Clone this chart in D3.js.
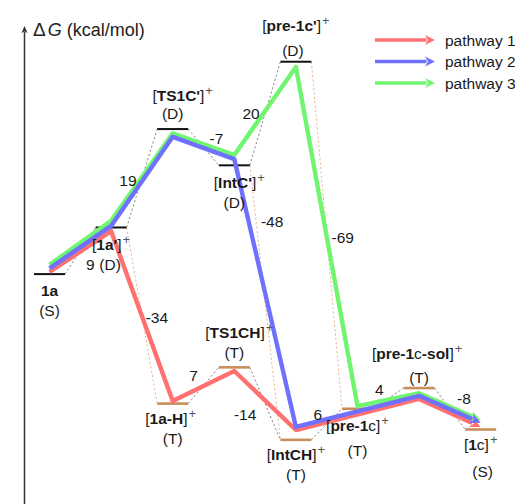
<!DOCTYPE html>
<html><head><meta charset="utf-8">
<script src="https://cdn.jsdelivr.net/npm/d3@7"></script>
<style>body{margin:0;background:#fff}svg{display:block}</style>
</head><body>
<script>
// ---- species on the free-energy surface (kcal/mol) ----
const levelNames  = ["1a", "1a'", "TS1C'", "IntC'", "pre-1c'", "1a-H", "TS1CH", "IntCH", "pre-1c", "pre-1c-sol", "1c"];
const levelCols   = [0, 1, 2, 3, 4, 2, 3, 4, 5, 6, 7];
const levelEnergy = [0, 9, 28, 21, 41, -25, -18, -32, -26, -22, -30];
const levelState  = ["S", "D", "D", "D", "D", "T", "T", "T", "T", "T", "S"];
// *...* = bold, ^ = superscript
const levelLabel  = ["*1a*", "[*1a'*]^+", "[*TS1C'*]^+", "[*IntC'*]^+", "[*pre-1c'*]^+", "[*1a-H*]^+",
                     "[*TS1CH*]^+", "[*IntCH*]^+", "[*pre-1*c]^+", "[*pre-1*c*-sol*]^+", "[*1*c]^+"];
const levelTone   = ["dark", "dark", "dark", "dark", "dark", "tan", "tan", "tan", "tan", "tan", "tan"];

// ---- elementary steps with their energy change ----
const stepFrom  = [0, 1, 2, 3, 3, 4, 1, 5, 6, 7, 8, 9];
const stepTo    = [1, 2, 3, 4, 7, 8, 5, 6, 7, 8, 9, 10];
const stepLabel = ["9", "19", "-7", "20", "-48", "-69", "-34", "7", "-14", "6", "4", "-8"];
const stepSpinChange = [false, false, false, false, true, true, true, false, false, false, false, false];

// ---- reaction pathways (column, energy) ----
const pathwayNames = ["pathway 1", "pathway 2", "pathway 3"];
const pathway1Cols = [0, 1, 2, 3, 4, 6, 7];
const pathway1Energy = [0.4, 8.3, -24.5, -18.7, -30.1, -24.1, -29.5];
const pathway2Cols = [0, 1, 2, 3, 4, 6, 7];
const pathway2Energy = [1.1, 9.3, 26.5, 22.2, -29.5, -23.5, -28.7];
const pathway3Cols = [0, 1, 2, 3, 4, 5, 6, 7];
const pathway3Energy = [1.8, 10.3, 27.2, 23.0, 40.0, -25.5, -23.0, -28.2];

// ---- layout ----
const W = 515, H = 504;
const colors = ["#ff7070", "#7070ff", "#70f570"];
const font = "'Liberation Sans', Arial, sans-serif";
const halfBar = 15.5;
// label placement relative to each bar: [dx, dy] of name line and state line centres
const nameOffset  = [[0,16],[0,17],[10,-34],[5,17],[0,-36],[-2,15],[5,-35],[0,15],[0,17],[-2,-35],[0,15]];
const stateOffset = [[0,36],[-1,37],[0,-16],[0,37],[-3,-11],[0,35],[0,-15],[0,35],[0,42],[0,-11],[2,42]];
// step-label placement relative to the connector midpoint
const stepOffset  = [[10,14],[-14,2],[13,-9],[-14,0],[7,-81],[16,2],[15,2],[-10,-10],[-20,11],[-9,-10],[-9,-9],[14,-10]];

const svg = d3.select("body").append("svg").attr("width", W).attr("height", H)
  .style("font-family", font);

const x = d3.scaleLinear().domain([0, 7]).range([49.5, 480.7]);
const y = d3.scaleLinear().domain([-40, 50]).range([481.3, 15.1]);

// ---- energy axis ----
const axisG = svg.append("g");
axisG.append("line").attr("x1", 24.5).attr("x2", 24.5).attr("y1", H).attr("y2", 32)
  .attr("stroke", "#333").attr("stroke-width", 1.5);
axisG.append("path").attr("d", "M24.5,26 L21.5,33 L24.5,31.5 L27.5,33 Z").attr("fill", "#333");
const axisTitle = axisG.append("text").attr("x", 33).attr("y", 36).attr("font-size", 18).attr("fill", "#222");
axisTitle.append("tspan").attr("font-size", 19).text("\u0394");
axisTitle.append("tspan").attr("dx", 2).attr("font-style", "italic").text("G");
axisTitle.append("tspan").text(" (kcal/mol)");

// ---- dashed connectors between levels ----
const barPt = (i, side) => [x(levelCols[i]) + side * halfBar, y(levelEnergy[i])];
const connG = svg.append("g");
stepFrom.forEach((f, k) => {
  const a = barPt(f, 1), b = barPt(stepTo[k], -1);
  connG.append("line").attr("x1", a[0]).attr("y1", a[1]).attr("x2", b[0]).attr("y2", b[1])
    .attr("stroke", stepSpinChange[k] ? "#e3b08a" : "#7a7a7a")
    .attr("stroke-width", 0.9).attr("stroke-dasharray", "2.2,2.2");
});

// ---- energy levels ----
svg.append("g").selectAll("line").data(levelNames).join("line")
  .attr("x1", (d, i) => x(levelCols[i]) - halfBar)
  .attr("x2", (d, i) => x(levelCols[i]) + halfBar)
  .attr("y1", (d, i) => y(levelEnergy[i]))
  .attr("y2", (d, i) => y(levelEnergy[i]))
  .attr("stroke", (d, i) => levelTone[i] === "dark" ? "#111" : "#c98f5a")
  .attr("stroke-width", (d, i) => levelTone[i] === "dark" ? 2 : 2.6);

// ---- pathways with arrowheads ----
function arrowPath(g, pts, color, width, headLen, headW) {
  const n = pts.length;
  const [x1, y1] = pts[n - 2], [x2, y2] = pts[n - 1];
  const L = Math.hypot(x2 - x1, y2 - y1), ux = (x2 - x1) / L, uy = (y2 - y1) / L;
  const shaft = pts.slice(0, -1).concat([[x2 - ux * headLen * 0.85, y2 - uy * headLen * 0.85]]);
  g.append("path").attr("d", d3.line()(shaft)).attr("fill", "none")
    .attr("stroke", color).attr("stroke-width", width)
    .attr("stroke-linejoin", "round").attr("stroke-linecap", "butt");
  const bx = x2 - ux * headLen, by = y2 - uy * headLen, px = -uy, py = ux;
  g.append("path")
    .attr("d", `M${x2},${y2}L${bx + px * headW / 2},${by + py * headW / 2}L${x2 - ux * headLen * 0.7},${y2 - uy * headLen * 0.7}L${bx - px * headW / 2},${by - py * headW / 2}Z`)
    .attr("fill", color);
}
const pathG = svg.append("g");
const pathways = [[pathway1Cols, pathway1Energy], [pathway2Cols, pathway2Energy], [pathway3Cols, pathway3Energy]];
[0, 2, 1].forEach(p => {
  const [cols, en] = pathways[p];
  arrowPath(pathG, cols.map((c, i) => [x(c), y(en[i])]), colors[p], 4.4, 11, 10);
});

// ---- text labels ----
function richText(sel, spec) {
  const [main, sup] = spec.split("^");
  main.split("*").forEach((part, i) => {
    if (part) sel.append("tspan").attr("font-weight", i % 2 ? "bold" : "normal").text(part);
  });
  if (sup) sel.append("tspan").attr("dy", -6).attr("dx", 1).attr("font-size", 13).attr("fill", "#555").text(sup);
}
const textG = svg.append("g").attr("fill", "#1a1a1a").attr("font-size", 15.5).attr("text-anchor", "middle");
levelNames.forEach((nm, i) => {
  const bx = x(levelCols[i]), by = y(levelEnergy[i]);
  const t = textG.append("text").attr("x", bx + nameOffset[i][0]).attr("y", by + nameOffset[i][1] + 5.5);
  richText(t, levelLabel[i]);
  textG.append("text").attr("x", bx + stateOffset[i][0]).attr("y", by + stateOffset[i][1] + 5.5)
    .text(`(${levelState[i]})`);
});
stepFrom.forEach((f, k) => {
  const a = barPt(f, 1), b = barPt(stepTo[k], -1);
  const mx = (a[0] + b[0]) / 2 + stepOffset[k][0], my = (a[1] + b[1]) / 2 + stepOffset[k][1];
  textG.append("text").attr("x", mx).attr("y", my + 5.5).text(stepLabel[k]);
});

// ---- legend ----
const legG = svg.append("g");
pathwayNames.forEach((nm, i) => {
  const ly = 40 + i * 21.5;
  arrowPath(legG, [[375, ly], [435, ly]], colors[i], 3.5, 10, 10);
  legG.append("text").attr("x", 445).attr("y", ly + 5.5).attr("font-size", 15.5).attr("fill", "#1a1a1a").text(nm);
});
</script>
</body></html>
